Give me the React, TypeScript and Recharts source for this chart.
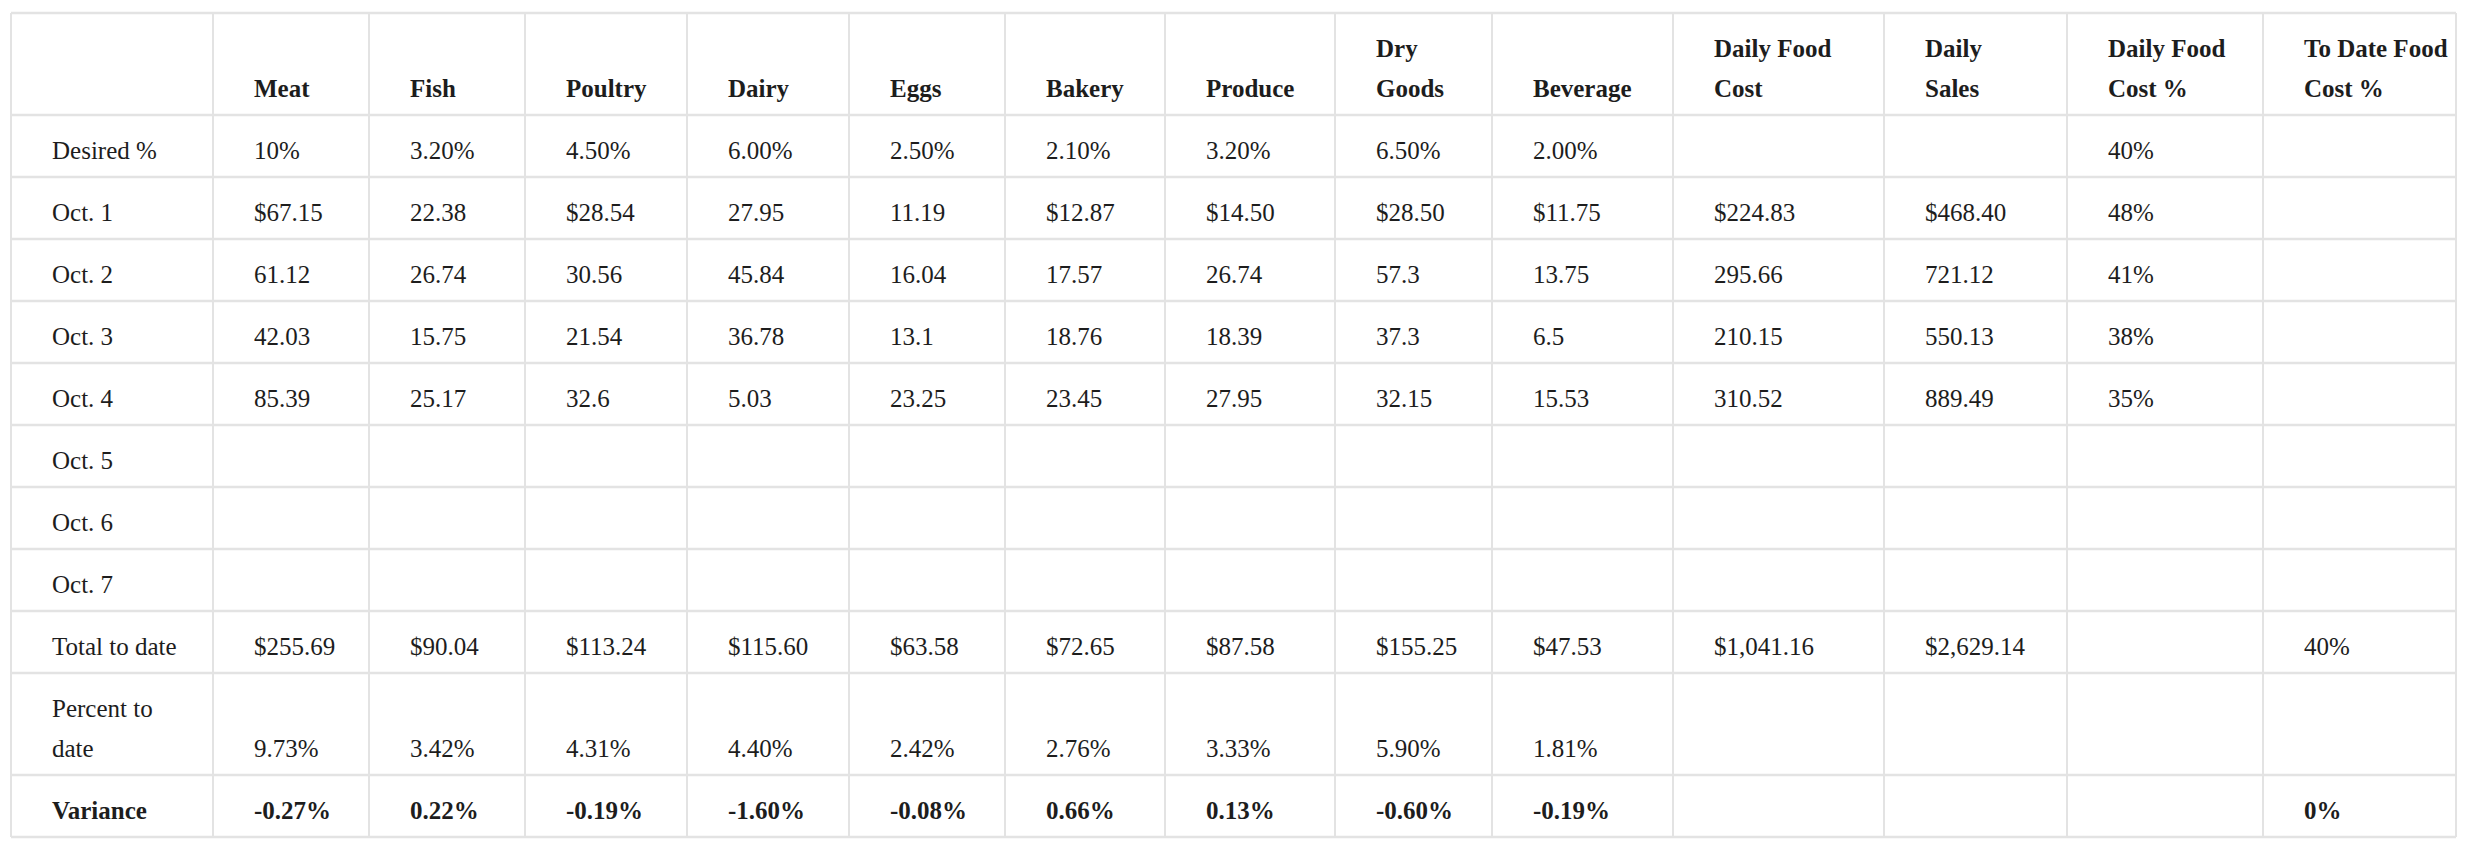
import React from 'react';
import {
  ComposedChart,
  Scatter,
  XAxis,
  YAxis,
  ReferenceLine
} from 'recharts';

// Table content
const headers = [
  '',
  'Meat',
  'Fish',
  'Poultry',
  'Dairy',
  'Eggs',
  'Bakery',
  'Produce',
  'Dry\nGoods',
  'Beverage',
  'Daily Food\nCost',
  'Daily\nSales',
  'Daily Food\nCost %',
  'To Date Food\nCost %'
];

const rowLabels = [
  'Desired %',
  'Oct. 1',
  'Oct. 2',
  'Oct. 3',
  'Oct. 4',
  'Oct. 5',
  'Oct. 6',
  'Oct. 7',
  'Total to date',
  'Percent to\ndate',
  'Variance'
];

const desired = ['10%', '3.20%', '4.50%', '6.00%', '2.50%', '2.10%', '3.20%', '6.50%', '2.00%', '', '', '40%', ''];
const oct1 = ['$67.15', '22.38', '$28.54', '27.95', '11.19', '$12.87', '$14.50', '$28.50', '$11.75', '$224.83', '$468.40', '48%', ''];
const oct2 = ['61.12', '26.74', '30.56', '45.84', '16.04', '17.57', '26.74', '57.3', '13.75', '295.66', '721.12', '41%', ''];
const oct3 = ['42.03', '15.75', '21.54', '36.78', '13.1', '18.76', '18.39', '37.3', '6.5', '210.15', '550.13', '38%', ''];
const oct4 = ['85.39', '25.17', '32.6', '5.03', '23.25', '23.45', '27.95', '32.15', '15.53', '310.52', '889.49', '35%', ''];
const oct5: string[] = [];
const oct6: string[] = [];
const oct7: string[] = [];
const totalToDate = ['$255.69', '$90.04', '$113.24', '$115.60', '$63.58', '$72.65', '$87.58', '$155.25', '$47.53', '$1,041.16', '$2,629.14', '', '40%'];
const percentToDate = ['9.73%', '3.42%', '4.31%', '4.40%', '2.42%', '2.76%', '3.33%', '5.90%', '1.81%', '', '', '', ''];
const variance = ['-0.27%', '0.22%', '-0.19%', '-1.60%', '-0.08%', '0.66%', '0.13%', '-0.60%', '-0.19%', '', '', '', '0%'];

const bodyRows = [desired, oct1, oct2, oct3, oct4, oct5, oct6, oct7, totalToDate, percentToDate, variance];
const boldRows = [false, false, false, false, false, false, false, false, false, false, true];

// layout (px units of the grid)
const colWidths = [202, 156, 156, 162, 162, 156, 160, 170, 157, 181, 211, 183, 196, 193];
const rowHeights = [102, 62, 62, 62, 62, 62, 62, 62, 62, 62, 102, 62];
const PAD_X = 41;
const PAD_BOTTOM = 18;
const LINE_H = 40;
const FONT = "'Liberation Serif', 'Times New Roman', serif";

const cumulate = (arr: number[]) => arr.reduce((acc, w) => [...acc, acc[acc.length - 1] + w], [0]);
const colEdges = cumulate(colWidths);
const rowEdges = cumulate(rowHeights);
const totalW = colEdges[colEdges.length - 1];
const totalH = rowEdges[rowEdges.length - 1];

type Cell = { x: number; y: number; text: string; bold: boolean };

const cells: Cell[] = [];
headers.forEach((h, c) => {
  if (h) cells.push({ x: colEdges[c] + PAD_X, y: rowEdges[1] - PAD_BOTTOM, text: h, bold: true });
});
bodyRows.forEach((row, r) => {
  const bottom = rowEdges[r + 2] - PAD_BOTTOM;
  cells.push({ x: colEdges[0] + PAD_X, y: bottom, text: rowLabels[r], bold: boldRows[r] });
  row.forEach((v, c) => {
    if (v) cells.push({ x: colEdges[c + 1] + PAD_X, y: bottom, text: v, bold: boldRows[r] });
  });
});

const TextCell = (props: any) => {
  const { cx, cy, payload } = props;
  const lines = String(payload.text).split('\n');
  return (
    <text
      fontFamily={FONT}
      fontSize={25}
      fontWeight={payload.bold ? 700 : 400}
      fill="#1d1d1d"
      textAnchor="start"
    >
      {lines.map((ln, i) => (
        <tspan key={i} x={cx} y={cy - (lines.length - 1 - i) * LINE_H}>
          {ln}
        </tspan>
      ))}
    </text>
  );
};

const GRID = '#e3e3e3';

export default function App() {
  return (
    <div style={{ position: 'absolute', left: 0, top: 0, background: '#fff' }}>
      <ComposedChart
        width={2470}
        height={850}
        margin={{ top: 13, left: 11, right: 2470 - 11 - totalW, bottom: 850 - 13 - totalH }}
      >
        <XAxis type="number" dataKey="x" domain={[0, totalW]} allowDataOverflow hide />
        <YAxis type="number" dataKey="y" domain={[0, totalH]} allowDataOverflow reversed hide />
        {colEdges.map((e, i) => (
          <ReferenceLine key={`v-${i}`} x={e} stroke={GRID} strokeWidth={2} ifOverflow="visible" />
        ))}
        {rowEdges.map((e, i) => (
          <ReferenceLine key={`h-${i}`} y={e} stroke={GRID} strokeWidth={2.5} ifOverflow="visible" />
        ))}
        <Scatter data={cells} shape={TextCell} isAnimationActive={false} />
      </ComposedChart>
    </div>
  );
}
